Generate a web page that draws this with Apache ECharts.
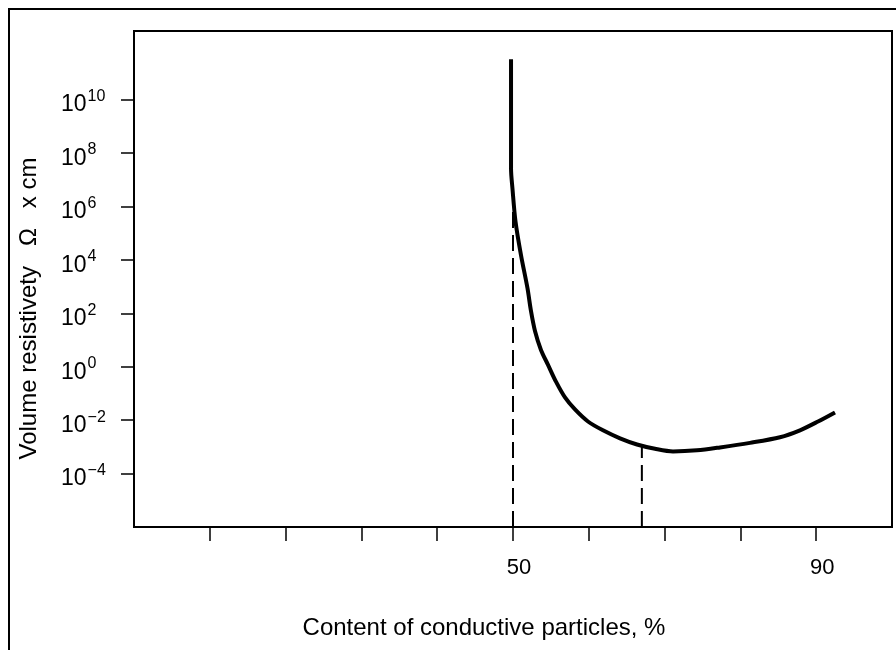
<!DOCTYPE html>
<html>
<head>
<meta charset="utf-8">
<script src="https://cdn.jsdelivr.net/npm/echarts@6/dist/echarts.min.js"></script>
<style>
  html, body { margin: 0; padding: 0; background: #fff; }
  #wrap { position: relative; width: 896px; height: 650px; overflow: hidden; }
  #chart { position: absolute; left: 0; top: 0; width: 896px; height: 650px; }
  #frame { position: absolute; left: 8px; top: 8px; width: 900px; height: 700px;
           border-left: 2px solid #000; border-top: 2px solid #000; pointer-events: none; }
</style>
</head>
<body>
<div id="wrap"><div id="chart"></div><div id="frame"></div></div>
<script>
// Content of conductive particles, %
const contentPct = [49.74, 49.74, 49.93, 50.33, 51.06, 51.91, 52.37, 52.90, 53.69, 54.62, 55.67, 56.86, 58.18, 59.89, 61.87, 64.12, 66.36, 68.73, 71.11, 74.27, 77.31, 81.27, 85.22, 87.86, 90.24, 92.48];
// log10 of volume resistivity (Ohm x cm)
const logResistivity = [11.51, 7.41, 6.67, 5.44, 4.17, 2.94, 2.09, 1.34, 0.63, 0.07, -0.56, -1.15, -1.60, -2.05, -2.38, -2.68, -2.91, -3.07, -3.17, -3.13, -3.02, -2.85, -2.64, -2.38, -2.05, -1.71];
// dashed guide lines: x position and top (log value)
const guideX = [50, 67];
const guideTop = [6.3, -2.95];
// axis ticks and labels
const xTicks = [10, 20, 30, 40, 50, 60, 70, 80, 90];
const xLabels = [50, 90];
const yTickExponents = [-4, -2, 0, 2, 4, 6, 8, 10];

const FONT = "'Liberation Sans', Arial, Helvetica, sans-serif";
const curve = contentPct.map((x, i) => [x, logResistivity[i]]);
const yMin = -6, yMax = 12.57;

const guideSeries = guideX.map((x, i) => ({
  type: 'line',
  data: [[x, yMin], [x, guideTop[i]]],
  symbol: 'none',
  lineStyle: { color: '#000', width: 2, type: [16, 7] },
  z: 1,
  silent: true
}));

const chart = echarts.init(document.getElementById('chart'), null, { renderer: 'canvas' });
chart.setOption({
  animation: false,
  backgroundColor: '#fff',
  grid: {
    left: 134, right: 4, top: 31, bottom: 123,
    show: true, borderColor: '#000', borderWidth: 2, backgroundColor: 'transparent'
  },
  xAxis: {
    type: 'value', min: 0, max: 100, interval: 10,
    name: 'Content of conductive particles, %',
    nameLocation: 'middle', nameGap: 89,
    nameTextStyle: { fontFamily: FONT, fontSize: 24, color: '#000', padding: [0, 58, 0, 0] },
    axisLine: { show: true, onZero: false, lineStyle: { color: '#000', width: 2 } },
    axisTick: { show: true, customValues: xTicks, length: 14, inside: false, lineStyle: { color: '#000', width: 1.5 } },
    axisLabel: { customValues: xLabels, fontFamily: FONT, fontSize: 22, color: '#000', margin: 30, padding: [0, 0, 0, 12] },
    splitLine: { show: false }
  },
  yAxis: {
    type: 'value', min: yMin, max: yMax, interval: 2,
    name: 'Volume resistivety   \u03A9   x cm',
    nameLocation: 'middle', nameGap: 93, nameRotate: 90,
    nameTextStyle: { fontFamily: FONT, fontSize: 24, color: '#000', padding: [0, 59, 0, 0] },
    axisLine: { show: true, onZero: false, lineStyle: { color: '#000', width: 2 } },
    axisTick: { show: true, customValues: yTickExponents, length: 13, inside: false, lineStyle: { color: '#000', width: 1.5 } },
    axisLabel: {
      customValues: yTickExponents,
      align: 'left', margin: 73,
      padding: [6, 0, 0, 0],
      formatter: v => '{b|10}{e|' + (v < 0 ? '\u2212' + (-v) : v) + '}',
      rich: {
        b: { fontFamily: FONT, fontSize: 23, color: '#000', lineHeight: 28, verticalAlign: 'bottom' },
        e: { fontFamily: FONT, fontSize: 16, color: '#000', lineHeight: 16, verticalAlign: 'top', padding: [0, 0, 0, 1] }
      }
    },
    splitLine: { show: false }
  },
  series: [
    {
      type: 'line',
      name: 'Volume resistivity',
      data: curve,
      smooth: 0.3,
      symbol: 'none',
      lineStyle: { color: '#000', width: 4 },
      z: 3
    }
  ].concat(guideSeries)
});
</script>
</body>
</html>
